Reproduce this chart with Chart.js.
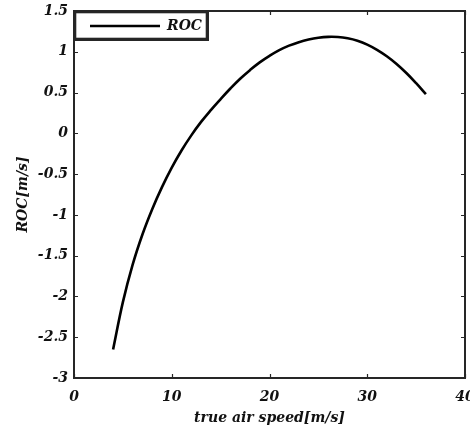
<!DOCTYPE html>
<html>
<head>
<meta charset="utf-8">
<script src="https://cdn.jsdelivr.net/npm/chart.js@4.4.1/dist/chart.umd.min.js"></script>
<style>
html,body{margin:0;padding:0;background:#fff;}
#wrap{width:470px;height:429px;position:relative;}
</style>
</head>
<body>
<div id="wrap"><canvas id="c" width="470" height="429"></canvas></div>
<script>
const seriesLabel = 'ROC';
const speedX = [4, 5, 6, 7, 8, 9, 10, 11, 12, 13, 14, 15, 16, 17, 18, 19, 20, 21, 22, 23, 24, 25, 26, 27, 28, 29, 30, 31, 32, 33, 34, 35, 36];
const rocY = [-2.65, -2.07, -1.61, -1.24, -0.93, -0.66, -0.42, -0.21, -0.025, 0.14, 0.285, 0.42, 0.55, 0.67, 0.775, 0.87, 0.95, 1.02, 1.075, 1.118, 1.15, 1.172, 1.183, 1.181, 1.165, 1.135, 1.088, 1.024, 0.945, 0.85, 0.74, 0.615, 0.48];
const xTicks = [0, 10, 20, 30, 40];
const yTicks = [-3, -2.5, -2, -1.5, -1, -0.5, 0, 0.5, 1, 1.5];
const xTitle = 'true air speed[m/s]';
const yTitle = 'ROC[m/s]';

const FONT = 'DejaVu Serif';
const AX = '#262626';

const framePlugin = {
  id: 'frame',
  afterDatasetsDraw(chart) {
    const {ctx, chartArea: a, scales} = chart;
    ctx.save();
    ctx.strokeStyle = AX;
    ctx.lineWidth = 2;
    ctx.strokeRect(a.left, a.top, a.right - a.left, a.bottom - a.top);
    ctx.lineWidth = 1.2;
    const tl = 4;
    xTicks.forEach(v => {
      const px = Math.round(scales.x.getPixelForValue(v)) + 0.5;
      ctx.beginPath();
      ctx.moveTo(px, a.bottom); ctx.lineTo(px, a.bottom - tl);
      ctx.moveTo(px, a.top); ctx.lineTo(px, a.top + tl);
      ctx.stroke();
    });
    yTicks.forEach(v => {
      const py = Math.round(scales.y.getPixelForValue(v)) + 0.5;
      ctx.beginPath();
      ctx.moveTo(a.left, py); ctx.lineTo(a.left + tl, py);
      ctx.moveTo(a.right, py); ctx.lineTo(a.right - tl, py);
      ctx.stroke();
    });
    // legend
    const lx = a.left, ly = a.top, lw = 134, lh = 29;
    ctx.fillStyle = '#fff';
    ctx.fillRect(lx, ly, lw, lh);
    ctx.lineWidth = 2;
    ctx.strokeStyle = AX;
    ctx.strokeRect(lx, ly, lw, lh);
    ctx.lineWidth = 1.6;
    ctx.strokeRect(lx + 1.5, ly + 1.5, lw - 3, lh - 3);
    ctx.strokeStyle = '#000';
    ctx.lineWidth = 2.5;
    ctx.beginPath();
    ctx.moveTo(lx + 16, ly + 15); ctx.lineTo(lx + 86, ly + 15);
    ctx.stroke();
    ctx.fillStyle = '#111';
    ctx.font = 'italic bold 14px "' + FONT + '"';
    ctx.textBaseline = 'middle';
    ctx.textAlign = 'left';
    ctx.fillText(chart.data.datasets[0].label, lx + 93, ly + 15);
    ctx.restore();
  }
};

const tickFont = {family: FONT, size: 14, style: 'italic', weight: 'bold'};

new Chart(document.getElementById('c'), {
  type: 'line',
  data: {
    datasets: [{
      label: seriesLabel,
      data: speedX.map((x, i) => ({x: x, y: rocY[i]})),
      borderColor: '#000',
      borderWidth: 2.6,
      pointRadius: 0,
      fill: false,
      tension: 0.4
    }]
  },
  options: {
    responsive: false,
    animation: false,
    layout: {padding: {top: 11, right: 5, left: 0, bottom: 0}},
    plugins: {legend: {display: false}, tooltip: {enabled: false}},
    scales: {
      x: {
        type: 'linear', min: 0, max: 40,
        afterBuildTicks: s => { s.ticks = xTicks.map(v => ({value: v})); },
        afterFit: s => { s.height = 51; s.paddingLeft = 0; s.paddingRight = 0; },
        grid: {display: false, drawTicks: false},
        border: {display: false},
        ticks: {font: tickFont, color: '#111', padding: 11, maxRotation: 0, callback: v => String(v)},
        title: {display: true, text: xTitle, font: tickFont, color: '#111', padding: {top: 0, bottom: 2}}
      },
      y: {
        type: 'linear', min: -3, max: 1.5,
        afterBuildTicks: s => { s.ticks = yTicks.map(v => ({value: v})); },
        afterFit: s => { s.width = 74; s.paddingTop = 0; s.paddingBottom = 0; },
        grid: {display: false, drawTicks: false},
        border: {display: false},
        ticks: {font: tickFont, color: '#111', padding: 6, callback: v => String(v)},
        title: {display: true, text: yTitle, font: tickFont, color: '#111', padding: {top: 15, bottom: 0}}
      }
    }
  },
  plugins: [framePlugin]
});
</script>
</body>
</html>
